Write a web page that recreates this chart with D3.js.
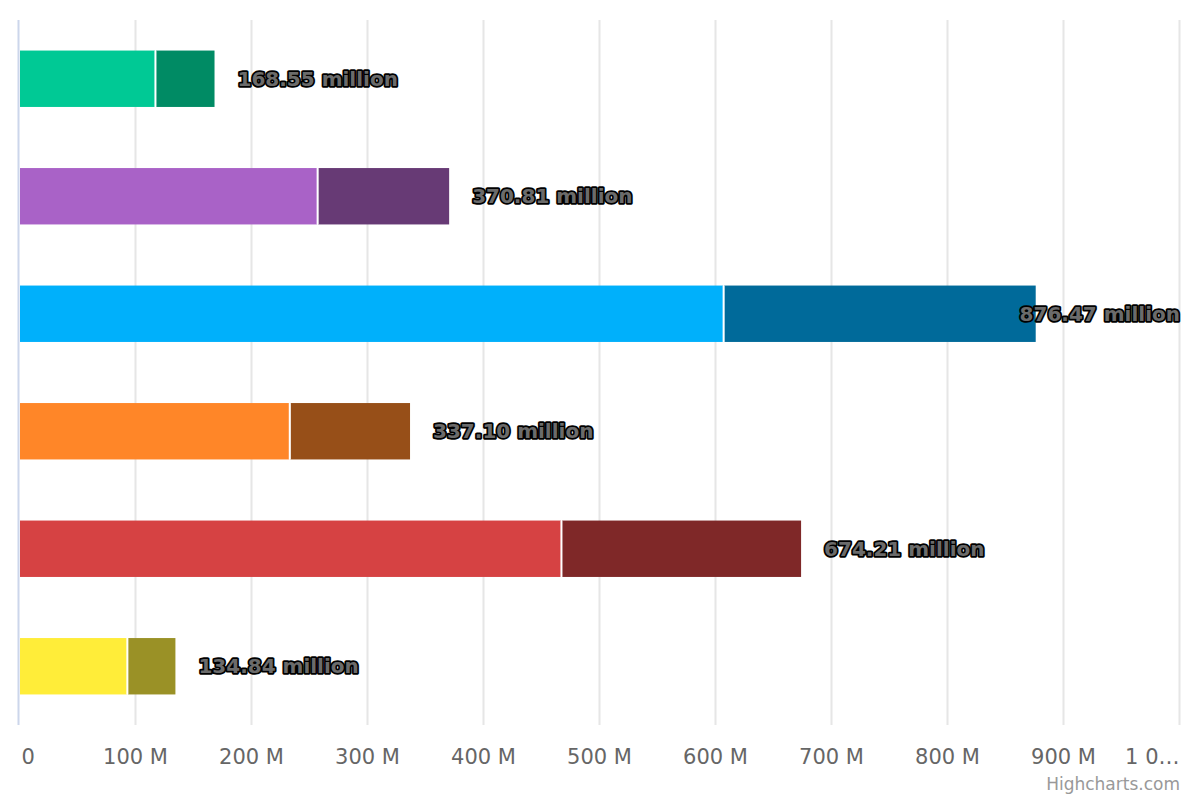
<!DOCTYPE html>
<html>
<head>
<meta charset="utf-8">
<script src="https://cdn.jsdelivr.net/npm/d3@7"></script>
<style>
  html, body { margin: 0; padding: 0; background: #fff; }
  svg { display: block; }
</style>
</head>
<body>
<svg id="chart" width="1200" height="800"></svg>
<script>
// ---- Data ----
const categories = ["A", "B", "C", "D", "E", "F"];
const totals = [168.55, 370.81, 876.47, 337.10, 674.21, 134.84];      // million
const firstPart = [117.2, 257.0, 607.0, 233.0, 467.2, 93.0];          // million (lighter segment)
const secondPart = totals.map((t, i) => +(t - firstPart[i]).toFixed(2)); // darker segment
const lightColors = ["#00c995", "#a962c7", "#00b0fb", "#ff8628", "#d64243", "#ffed39"];
const darkColors  = ["#008b64", "#673a75", "#006a9a", "#974f18", "#7f2828", "#9a9126"];
const tickValues = [0, 100, 200, 300, 400, 500, 600, 700, 800, 900, 1000];
const tickLabels = ["0", "100 M", "200 M", "300 M", "400 M", "500 M", "600 M", "700 M", "800 M", "900 M", "1 0…"];

// ---- Layout ----
const svg = d3.select("#chart");
const plot = { left: 19, right: 1180, top: 20, bottom: 725 };

const x = d3.scaleLinear().domain([0, 1000]).range([plot.left, plot.right - 1]);
const y = d3.scaleBand().domain(categories).range([plot.top, plot.bottom]).paddingInner(0).paddingOuter(0);
const barH = y.bandwidth() * 0.48;

// gridlines
svg.append("g").selectAll("line").data(tickValues.slice(1)).join("line")
  .attr("x1", d => Math.round(x(d)) + 0.5).attr("x2", d => Math.round(x(d)) + 0.5)
  .attr("y1", plot.top).attr("y2", plot.bottom)
  .attr("stroke", "#e6e6e6").attr("stroke-width", 2);

// left axis line
svg.append("line")
  .attr("x1", plot.left - 0.5).attr("x2", plot.left - 0.5)
  .attr("y1", plot.top).attr("y2", plot.bottom)
  .attr("stroke", "#ccd6eb").attr("stroke-width", 2);

// x-axis via d3 axis (labels only)
const axis = d3.axisBottom(x).tickValues(tickValues).tickSize(0).tickPadding(0)
  .tickFormat((d, i) => tickLabels[i]);
const ax = svg.append("g").attr("transform", `translate(0, 764)`).call(axis);
ax.select(".domain").remove();
ax.selectAll("text")
  .attr("y", 0).attr("dy", 0)
  .attr("fill", "#666")
  .style("font-family", "'DejaVu Sans', sans-serif")
  .style("font-size", "21px");
ax.selectAll("text").filter((d, i) => i === 0).attr("text-anchor", "start").attr("x", 2);
ax.selectAll("text").filter((d, i) => i === tickValues.length - 1).attr("text-anchor", "end").attr("x", 0);

// bars
const rows = categories.map((c, i) => ({ c, i, a: firstPart[i], b: secondPart[i], total: totals[i] }));
const g = svg.append("g");
rows.forEach(r => {
  const yc = y(r.c) + y.bandwidth() / 2;
  const y0 = yc - barH / 2;
  g.append("rect")
    .attr("x", x(0) + 1).attr("y", y0)
    .attr("width", x(r.a) - x(0) - 1).attr("height", barH)
    .attr("fill", lightColors[r.i]);
  g.append("rect")
    .attr("x", x(r.a) + 1).attr("y", y0)
    .attr("width", x(r.a + r.b) - x(r.a) - 1).attr("height", barH)
    .attr("fill", darkColors[r.i]);
  // white separator
  g.append("line")
    .attr("x1", x(r.a) + 0.5).attr("x2", x(r.a) + 0.5)
    .attr("y1", y0).attr("y2", y0 + barH)
    .attr("stroke", "#fff").attr("stroke-width", 2);
});

// data labels
const labels = svg.append("g");
rows.forEach(r => {
  const yc = y(r.c) + y.bandwidth() / 2;
  const t = labels.append("text")
    .attr("y", yc)
    .attr("dy", "0.36em")
    .attr("fill", "#6b6b6b")
    .attr("stroke", "#000")
    .attr("stroke-width", 3.5)
    .attr("stroke-linejoin", "round")
    .attr("paint-order", "stroke")
    .style("font-family", "'DejaVu Sans', sans-serif")
    .style("font-weight", "bold")
    .style("font-size", "20px")
    .text(r.total.toFixed(2) + " million");
  const w = t.node().getComputedTextLength();
  let lx = x(r.total) + 23;
  if (lx + w > plot.right) lx = plot.right - w;
  t.attr("x", lx);
});

// credits
svg.append("text")
  .attr("x", 1180).attr("y", 790)
  .attr("text-anchor", "end")
  .attr("fill", "#999")
  .style("font-family", "'DejaVu Sans', sans-serif")
  .style("font-size", "17px")
  .text("Highcharts.com");
</script>
</body>
</html>
